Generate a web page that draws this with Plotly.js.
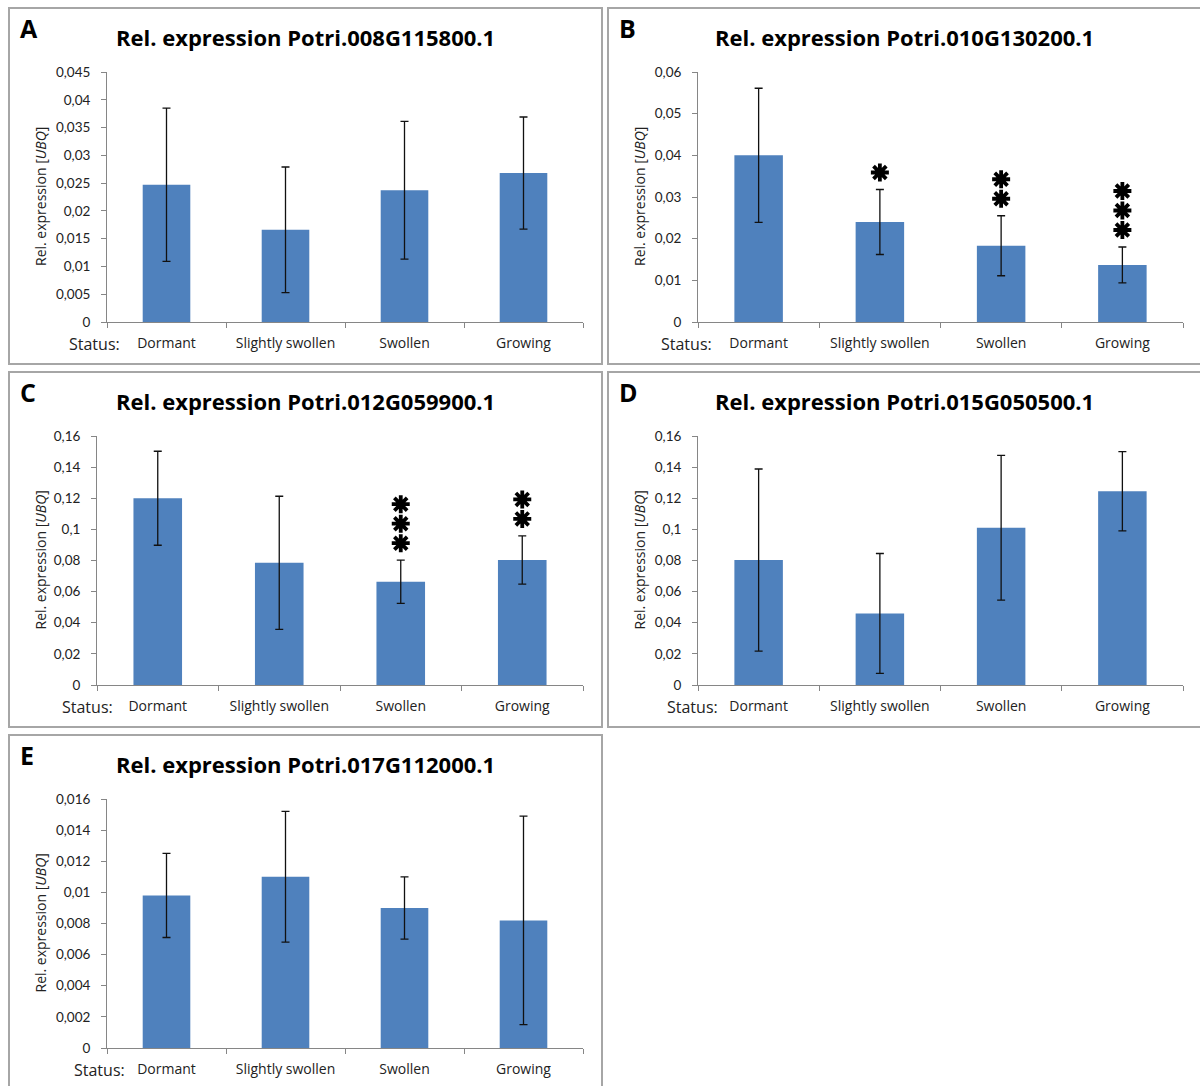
<!DOCTYPE html>
<html>
<head>
<meta charset="utf-8">
<script src="https://cdn.plot.ly/plotly-3.0.1.min.js"></script>
<style>
  html, body { margin: 0; padding: 0; background: #fff; }
  #chart { width: 1200px; height: 1086px; }
</style>
</head>
<body>
<div id="chart"></div>
<script>
// Bud status categories shared by all panels
const categories = ['Dormant', 'Slightly swollen', 'Swollen', 'Growing'];

// Gene models, one per panel
const panelLetters = ['A', 'B', 'C', 'D', 'E'];
const genes = ['Potri.008G115800.1', 'Potri.010G130200.1', 'Potri.012G059900.1',
               'Potri.015G050500.1', 'Potri.017G112000.1'];

// Mean relative expression (normalised to UBQ) and error (SD)
const meanA = [0.0247, 0.0166, 0.0237, 0.0268];
const errA  = [0.0138, 0.0113, 0.0124, 0.0101];
const meanB = [0.0400, 0.0240, 0.0183, 0.0137];
const errB  = [0.0161, 0.0078, 0.0072, 0.0043];
const meanC = [0.1200, 0.0785, 0.0663, 0.0803];
const errC  = [0.0302, 0.0428, 0.0139, 0.0155];
const meanD = [0.0803, 0.0460, 0.1010, 0.1245];
const errD  = [0.0585, 0.0385, 0.0465, 0.0255];
const meanE = [0.0098, 0.0110, 0.0090, 0.0082];
const errE  = [0.0027, 0.0042, 0.0020, 0.0067];

// Number of significance asterisks above each bar
const starsA = [0, 0, 0, 0];
const starsB = [0, 1, 2, 3];
const starsC = [0, 0, 3, 2];
const starsD = [0, 0, 0, 0];
const starsE = [0, 0, 0, 0];

// Y axis range top and tick step per panel
const yTop  = [0.045, 0.06, 0.16, 0.16, 0.016];
const yStep = [0.005, 0.01, 0.02, 0.02, 0.002];

const means = [meanA, meanB, meanC, meanD, meanE];
const errs  = [errA, errB, errC, errD, errE];
const stars = [starsA, starsB, starsC, starsD, starsE];

// Page geometry in pixels: outer frame and plot area of each panel
const W = 1200, H = 1086;
const frames = [
  [9, 8, 602, 364], [608, 8, 1212, 364],
  [9, 372, 602, 727], [608, 372, 1212, 727],
  [9, 735, 602, 1100]
];
const plots = [
  [107, 72, 583, 322], [698, 72, 1183, 322],
  [97, 436, 583, 685], [698, 436, 1183, 685],
  [107, 799, 583, 1048]
];
const statusRight = [122, 714, 115, 720, 127];

const px = x => x / W;
const py = y => 1 - y / H;

const FONT = '"Open Sans", Lato, sans-serif';
const NUMFONT = 'Lato, "Open Sans", sans-serif';
const BAR = '#4F81BD';
const AXIS = '#868686';

const traces = [];
const layout = {
  width: W, height: H,
  margin: {l: 0, r: 0, t: 0, b: 0},
  paper_bgcolor: '#fff', plot_bgcolor: 'rgba(0,0,0,0)',
  showlegend: false,
  separators: ', ',
  bargap: 0.6,
  font: {family: FONT, color: '#222'},
  shapes: [],
  annotations: []
};

for (let i = 0; i < 5; i++) {
  const n = i === 0 ? '' : String(i + 1);
  const [fx0, fy0, fx1, fy1] = frames[i];
  const [x0, y0, x1, y1] = plots[i];

  traces.push({
    type: 'bar',
    x: categories,
    y: means[i],
    xaxis: 'x' + n, yaxis: 'y' + n,
    marker: {color: BAR},
    error_y: {type: 'data', array: errs[i], visible: true,
              color: '#111', thickness: 1.3, width: 4},
    hoverinfo: 'x+y'
  });

  // Significance asterisks stacked above the error bars,
  // spaced in screen pixels converted to axis units
  const unitsPerPx = yTop[i] / (y1 - y0);
  const sx = [], sy = [];
  for (let c = 0; c < categories.length; c++) {
    for (let k = 0; k < stars[i][c]; k++) {
      sx.push(categories[c]);
      sy.push(means[i][c] + errs[i][c] + (17 + 19.5 * k) * unitsPerPx);
    }
  }
  if (sx.length) {
    traces.push({
      type: 'scatter', mode: 'markers',
      x: sx, y: sy, xaxis: 'x' + n, yaxis: 'y' + n,
      marker: {symbol: 'asterisk-open', size: 15, color: '#000',
               line: {color: '#000', width: 3.8}},
      hoverinfo: 'skip', cliponaxis: false
    });
  }

  layout['xaxis' + n] = {
    domain: [px(x0), px(x1)], anchor: 'y' + n,
    type: 'category', range: [-0.5, 3.5], fixedrange: true,
    showline: true, linecolor: AXIS, linewidth: 1,
    ticks: 'outside', tickson: 'boundaries', ticklen: 5, tickcolor: AXIS,
    showgrid: false, zeroline: false,
    ticklabelstandoff: 8,
    tickfont: {family: FONT, size: 14, color: '#222'}
  };
  layout['yaxis' + n] = {
    domain: [py(y1), py(y0)], anchor: 'x' + n,
    range: [0, yTop[i]], dtick: yStep[i], tick0: 0, fixedrange: true,
    showline: true, linecolor: AXIS, linewidth: 1,
    ticks: 'outside', ticklen: 5, tickcolor: AXIS,
    showgrid: false, zeroline: false,
    ticklabelstandoff: 8,
    tickfont: {family: NUMFONT, size: 13.5, color: '#222'}
  };

  // Panel frame
  layout.shapes.push({
    type: 'rect', xref: 'paper', yref: 'paper',
    x0: px(fx0), x1: px(fx1), y0: py(fy1), y1: py(fy0),
    line: {color: '#a6a6a6', width: 2}
  });

  // Panel letter
  layout.annotations.push({
    xref: 'paper', yref: 'paper', x: px(fx0 + 9), y: py(fy0 + 20),
    xanchor: 'left', yanchor: 'middle', showarrow: false,
    text: '<b>' + panelLetters[i] + '</b>',
    font: {family: FONT, size: 25, color: '#000'}
  });
  // Panel title
  layout.annotations.push({
    xref: 'paper', yref: 'paper', x: px(fx0 + 296), y: py(fy0 + 29),
    xanchor: 'center', yanchor: 'middle', showarrow: false,
    text: '<b>Rel. expression ' + genes[i] + '</b>',
    font: {family: FONT, size: 22, color: '#000'}
  });
  // Y axis title
  layout.annotations.push({
    xref: 'paper', yref: 'paper', x: px(fx0 + 31), y: py((y0 + y1) / 2),
    xanchor: 'center', yanchor: 'middle', showarrow: false, textangle: -90,
    text: 'Rel. expression [<i>UBQ</i>]',
    font: {family: FONT, size: 14, color: '#222'}
  });
  // Row label in front of the category labels
  layout.annotations.push({
    xref: 'paper', yref: 'paper', x: px(statusRight[i]), y: py(y1 + 22),
    xanchor: 'right', yanchor: 'middle', showarrow: false,
    text: 'Status:',
    font: {family: FONT, size: 16, color: '#222'}
  });
}

Plotly.newPlot('chart', traces, layout, {staticPlot: true, displayModeBar: false});
</script>
</body>
</html>
